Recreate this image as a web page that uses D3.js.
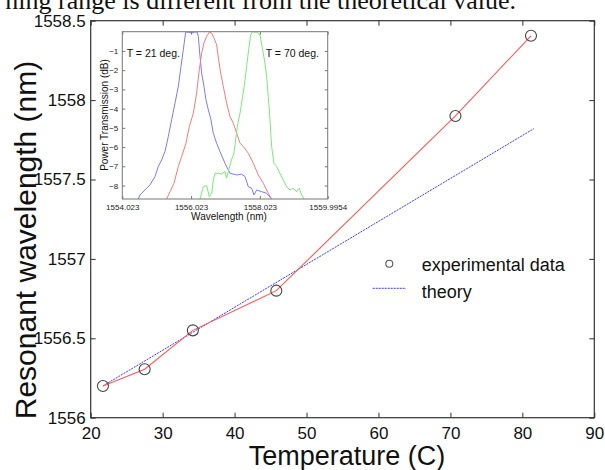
<!DOCTYPE html>
<html>
<head>
<meta charset="utf-8">
<script src="https://cdn.jsdelivr.net/npm/d3@7"></script>
<style>
  body { margin: 0; background: #fff; }
  svg { display: block; font-family: "Liberation Sans", Arial, sans-serif; }
</style>
</head>
<body>
<div id="chart-area"></div>
<script>
// main chart data
var temps = [21.7, 27.5, 34.2, 45.8, 70.7, 81.2]
var resWl = [1556.20, 1556.305, 1556.55, 1556.80, 1557.90, 1558.405]
var theoryT = [21.7, 81.6]
var theoryWl = [1556.2, 1557.82]
var xTicks = [20, 30, 40, 50, 60, 70, 80, 90]
var yTicks = [1556, 1556.5, 1557, 1557.5, 1558, 1558.5]

// inset spectra (wavelength nm, transmission dB)
var blueWl = [1554.489, 1554.538, 1554.731, 1554.828, 1554.974, 1555.070, 1555.167, 1555.264, 1555.361, 1555.458, 1555.555, 1555.652, 1555.729, 1555.797, 1555.865, 1555.943, 1556.040, 1556.136, 1556.204, 1556.233, 1556.282, 1556.330, 1556.398, 1556.456, 1556.524, 1556.601, 1556.669, 1556.766, 1556.863, 1557.008, 1557.154, 1557.348, 1557.493, 1557.590, 1557.687, 1557.784, 1557.852, 1557.929, 1558.074, 1558.220, 1558.365]
var blueDb = [-8.70, -8.49, -8.14, -7.97, -7.53, -7.01, -6.67, -6.23, -5.45, -4.58, -3.72, -2.85, -1.81, -0.94, -0.03, -0.02, -0.07, -0.01, -0.03, -0.24, -1.28, -2.15, -2.85, -3.54, -4.06, -4.58, -5.28, -5.80, -6.23, -6.84, -7.36, -7.45, -7.41, -7.53, -8.06, -8.14, -8.49, -8.23, -8.32, -8.40, -8.70]
var redWl = [1555.313, 1555.410, 1555.526, 1555.652, 1555.749, 1555.875, 1555.972, 1556.088, 1556.185, 1556.262, 1556.330, 1556.398, 1556.476, 1556.553, 1556.621, 1556.689, 1556.766, 1556.824, 1556.883, 1556.960, 1557.057, 1557.154, 1557.251, 1557.348, 1557.445, 1557.541, 1557.687, 1557.832, 1557.977, 1558.123, 1558.268, 1558.365]
var redDb = [-8.70, -8.32, -7.88, -7.01, -6.49, -5.80, -4.93, -4.24, -3.19, -1.98, -1.11, -0.59, -0.24, -0.03, -0.07, -0.33, -0.68, -1.46, -2.15, -2.85, -3.72, -4.41, -4.76, -5.28, -5.80, -5.97, -6.32, -6.84, -7.45, -7.88, -8.40, -8.70]
var greenWl = [1556.282, 1556.379, 1556.476, 1556.553, 1556.621, 1556.669, 1556.718, 1556.815, 1556.912, 1557.008, 1557.057, 1557.105, 1557.154, 1557.231, 1557.270, 1557.299, 1557.367, 1557.445, 1557.522, 1557.580, 1557.638, 1557.697, 1557.755, 1557.813, 1557.929, 1558.026, 1558.104, 1558.171, 1558.220, 1558.268, 1558.317, 1558.365, 1558.433, 1558.510, 1558.607, 1558.704, 1558.801, 1558.898, 1558.995, 1559.092, 1559.169, 1559.218, 1559.305]
var greenDb = [-8.70, -8.06, -8.00, -8.58, -8.40, -7.71, -7.36, -7.36, -7.40, -7.27, -7.62, -7.27, -6.93, -6.49, -6.32, -5.89, -4.93, -4.24, -3.37, -2.67, -1.81, -0.94, -0.16, 0, -0.03, -0.16, -0.94, -1.63, -2.33, -3.37, -4.58, -5.97, -6.84, -7.01, -7.36, -7.71, -8.06, -8.23, -8.14, -8.32, -8.14, -8.40, -8.70]
var insetXTicks = [1554.023, 1556.023, 1558.023, 1559.9954]
var insetYTicks = [-1, -2, -3, -4, -5, -6, -7, -8]

var W = 605, H = 470
var margin = {left: 90.7, top: 20.7, right: 10.7, bottom: 52.3}
var width = W - margin.left - margin.right
var height = H - margin.top - margin.bottom

var svg = d3.select('#chart-area').append('svg')
  .attr('width', W)
  .attr('height', H)

// cut-off caption line from the page above
svg.append('text')
  .attr('x', 516)
  .attr('y', 9)
  .attr('text-anchor', 'end')
  .attr('font-family', '"Liberation Serif", "Times New Roman", serif')
  .attr('font-size', '26px')
  .attr('fill', '#111')
  .text('ning range is different from the theoretical value.')

var group = svg.append('g')
  .attr('transform', 'translate(' + margin.left + ',' + margin.top + ')')

var xScale = d3.scaleLinear().domain([20, 90]).range([0, width])
var yScale = d3.scaleLinear().domain([1556, 1558.5]).range([height, 0])

var axisColor = '#333'

// frame
group.append('rect')
  .attr('width', width).attr('height', height)
  .attr('fill', 'none').attr('stroke', axisColor).attr('stroke-width', 1.2)

function styleAxis(g) {
  g.select('.domain').remove()
  g.selectAll('.tick line').attr('stroke', axisColor)
  g.selectAll('.tick text').attr('fill', '#111').attr('font-size', '17px')
    .attr('font-family', '"Liberation Sans", Arial, sans-serif')
}

group.append('g')
  .attr('transform', 'translate(0,' + height + ')')
  .call(d3.axisBottom(xScale).tickValues(xTicks).tickSize(-5).tickPadding(9).tickFormat(d3.format('d')))
  .call(styleAxis)
group.append('g')
  .call(d3.axisTop(xScale).tickValues(xTicks).tickSize(-5).tickFormat(''))
  .call(styleAxis)
group.append('g')
  .call(d3.axisLeft(yScale).tickValues(yTicks).tickSize(-5).tickPadding(5).tickFormat(d3.format('')))
  .call(styleAxis)
group.append('g')
  .attr('transform', 'translate(' + width + ',0)')
  .call(d3.axisRight(yScale).tickValues(yTicks).tickSize(-5).tickFormat(''))
  .call(styleAxis)

// axis labels
svg.append('text')
  .attr('x', 347)
  .attr('y', 465)
  .attr('text-anchor', 'middle')
  .attr('font-size', '27px')
  .attr('fill', '#111')
  .text('Temperature (C)')

svg.append('text')
  .attr('transform', 'translate(36,240) rotate(-90)')
  .attr('text-anchor', 'middle')
  .attr('font-size', '30px')
  .attr('fill', '#111')
  .text('Resonant wavelength (nm)')

// theory line
var pairs = theoryT.map(function(t, i) { return [t, theoryWl[i]] })
group.append('path')
  .datum(pairs)
  .attr('d', d3.line().x(function(d) { return xScale(d[0]) }).y(function(d) { return yScale(d[1]) }))
  .attr('fill', 'none')
  .attr('stroke', '#3a3aff')
  .attr('stroke-width', 1)
  .attr('stroke-dasharray', '2,1')

// experimental line + circles
var expData = temps.map(function(t, i) { return {t: t, wl: resWl[i]} })
group.append('path')
  .datum(expData)
  .attr('d', d3.line().x(function(d) { return xScale(d.t) }).y(function(d) { return yScale(d.wl) }))
  .attr('fill', 'none')
  .attr('stroke', '#ff5a5a')
  .attr('stroke-width', 1.1)

group.selectAll('circle.pt')
  .data(expData)
  .enter()
  .append('circle')
  .attr('class', 'pt')
  .attr('cx', function(d) { return xScale(d.t) })
  .attr('cy', function(d) { return yScale(d.wl) })
  .attr('r', 5.5)
  .attr('fill', 'none')
  .attr('stroke', '#444')
  .attr('stroke-width', 1.1)

// legend
var legend = svg.append('g')
legend.append('circle')
  .attr('cx', 389.3).attr('cy', 263.7).attr('r', 3.5)
  .attr('fill', 'none').attr('stroke', '#555').attr('stroke-width', 1.1)
legend.append('text')
  .attr('x', 421.7).attr('y', 270.5)
  .attr('font-size', '18px').attr('fill', '#111')
  .text('experimental data')
legend.append('line')
  .attr('x1', 372.7).attr('x2', 406).attr('y1', 288.3).attr('y2', 288.3)
  .attr('stroke', '#3a3aff').attr('stroke-dasharray', '2,1')
legend.append('text')
  .attr('x', 421.7).attr('y', 298)
  .attr('font-size', '18px').attr('fill', '#111')
  .text('theory')

// inset chart
var inset = {left: 122.3, top: 31.7, width: 205.4, height: 167.3}
var ig = svg.append('g')
  .attr('transform', 'translate(' + inset.left + ',' + inset.top + ')')

var ix = d3.scaleLinear().domain([1554.023, 1559.9954]).range([0, inset.width])
var iy = d3.scaleLinear().domain([-8.7, 0]).range([inset.height, 0])

ig.append('rect')
  .attr('x', -18).attr('y', -3).attr('width', inset.width + 22).attr('height', inset.height + 20)
  .attr('fill', '#fff')
svg.insert('rect', 'g')
  .attr('x', 100).attr('y', 26).attr('width', 20).attr('height', 165).attr('fill', '#fff')

ig.append('clipPath').attr('id', 'iclip')
  .append('rect').attr('width', inset.width).attr('height', inset.height)

var spectra = [
  {wl: blueWl, db: blueDb, color: '#7b7bf5'},
  {wl: redWl, db: redDb, color: '#f57b7b'},
  {wl: greenWl, db: greenDb, color: '#7be87b'}
]
var sLine = d3.line().x(function(d) { return ix(d[0]) }).y(function(d) { return iy(d[1]) })
ig.append('g').attr('clip-path', 'url(#iclip)')
  .selectAll('path')
  .data(spectra)
  .enter()
  .append('path')
  .attr('d', function(s) { return sLine(s.wl.map(function(w, i) { return [w, s.db[i]] })) })
  .attr('fill', 'none')
  .attr('stroke', function(s) { return s.color })
  .attr('stroke-width', 1)

ig.append('rect')
  .attr('width', inset.width).attr('height', inset.height)
  .attr('fill', 'none').attr('stroke', '#777').attr('stroke-width', 1)

function styleInset(g) {
  g.select('.domain').remove()
  g.selectAll('.tick line').attr('stroke', '#777')
  g.selectAll('.tick text').attr('fill', '#222').attr('font-size', '8px')
    .attr('font-family', '"Liberation Sans", Arial, sans-serif')
}
ig.append('g')
  .attr('transform', 'translate(0,' + inset.height + ')')
  .call(d3.axisBottom(ix).tickValues(insetXTicks).tickSize(-3).tickPadding(5).tickFormat(function(d) { return String(d) }))
  .call(styleInset)
ig.append('g')
  .call(d3.axisTop(ix).tickValues(insetXTicks).tickSize(-3).tickFormat(''))
  .call(styleInset)
ig.append('g')
  .call(d3.axisLeft(iy).tickValues(insetYTicks).tickSize(-3).tickPadding(4).tickFormat(d3.format('d')))
  .call(styleInset)
ig.append('g')
  .attr('transform', 'translate(' + inset.width + ',0)')
  .call(d3.axisRight(iy).tickValues(insetYTicks).tickSize(-3).tickFormat(''))
  .call(styleInset)

ig.append('text')
  .attr('x', inset.width / 2 + 4).attr('y', inset.height + 21)
  .attr('text-anchor', 'middle').attr('font-size', '10px').attr('fill', '#111')
  .text('Wavelength (nm)')
svg.append('text')
  .attr('transform', 'translate(108,115) rotate(-90)')
  .attr('text-anchor', 'middle').attr('font-size', '10px').attr('fill', '#111')
  .text('Power Transmission (dB)')

ig.append('text')
  .attr('x', 4.4).attr('y', 25)
  .attr('font-size', '10.5px').attr('fill', '#111')
  .text('T = 21 deg.')
ig.append('text')
  .attr('x', 143.4).attr('y', 25)
  .attr('font-size', '10.5px').attr('fill', '#111')
  .text('T = 70 deg.')
</script>
</body>
</html>
